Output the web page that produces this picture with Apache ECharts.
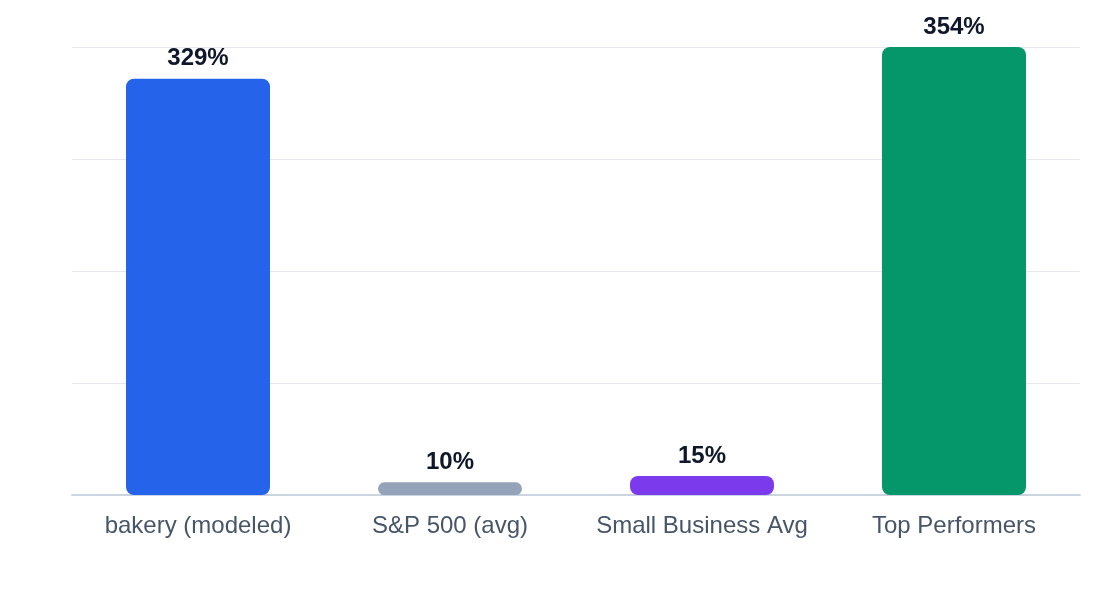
<html>
<head>
<meta charset="utf-8">
<script src="https://cdn.jsdelivr.net/npm/echarts@6/dist/echarts.min.js"></script>
</head>
<body style="margin:0;padding:0;">
<div id="chart" style="width:1120px;height:600px;"></div>
<script>
var categories = ['bakery (modeled)', 'S&P 500 (avg)', 'Small Business Avg', 'Top Performers'];
var values = [329, 10, 15, 354];
var colors = ['#2563eb', '#94a3b8', '#7c3aed', '#059669'];

var data = values.map(function (v, i) {
  return { value: v, itemStyle: { color: colors[i] } };
});

var chart = echarts.init(document.getElementById('chart'));
chart.setOption({
  animation: false,
  grid: { left: 72, right: 40, top: 47, bottom: 105 },
  xAxis: {
    type: 'category',
    data: categories,
    axisTick: { show: false },
    axisLine: { lineStyle: { color: '#cbd5e1', width: 2 } },
    axisLabel: { interval: 0, color: '#475569', fontSize: 24, margin: 19, fontFamily: 'Liberation Sans, Arial, sans-serif' }
  },
  yAxis: {
    type: 'value',
    min: 0,
    max: 354,
    interval: 88.5,
    axisLabel: { show: false },
    axisLine: { show: false },
    axisTick: { show: false },
    splitLine: { lineStyle: { color: '#e5e9ef', width: 1 } }
  },
  series: [{
    type: 'bar',
    data: data,
    barWidth: 144,
    itemStyle: { borderRadius: 8 },
    label: {
      show: true,
      position: 'top',
      distance: 8,
      formatter: '{c}%',
      color: '#0f172a',
      fontSize: 24,
      fontWeight: 'bold',
      fontFamily: 'Liberation Sans, Arial, sans-serif'
    }
  }]
});
</script>
</body>
</html>
